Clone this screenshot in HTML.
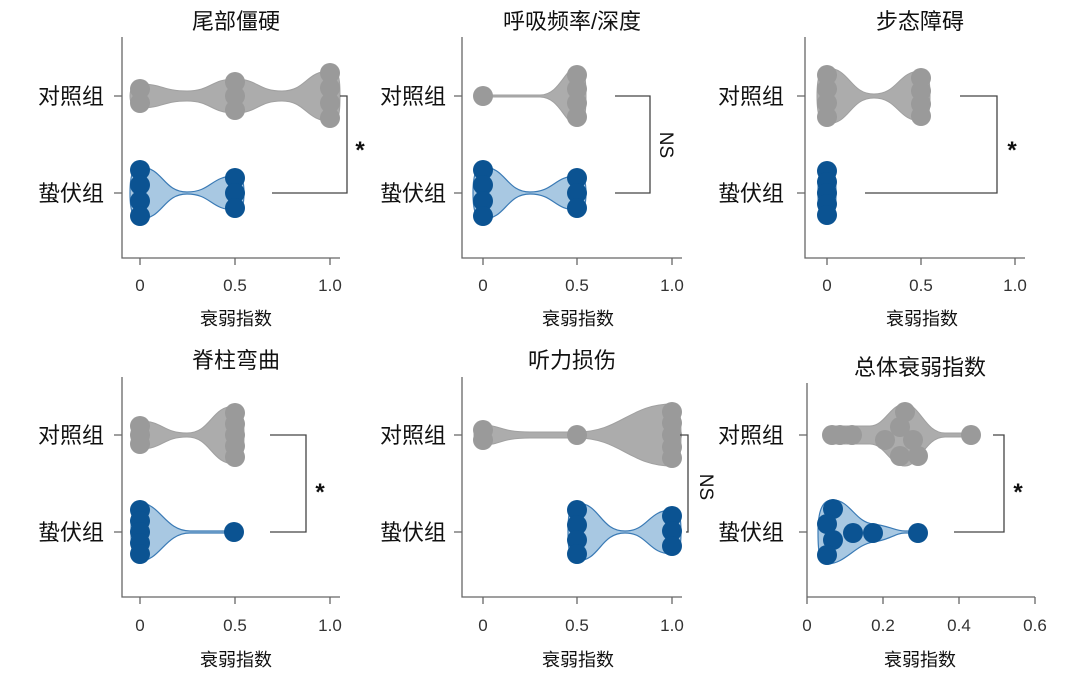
<!DOCTYPE html>
<html><head><meta charset="utf-8"><style>
html,body{margin:0;padding:0;background:#fff;}
svg{display:block;}
text{font-family:"Liberation Sans","Noto Sans CJK SC",sans-serif;fill:#111;}
.t{font-size:22px;text-anchor:middle;}
.r{font-size:22px;text-anchor:end;}
.k{font-size:17px;text-anchor:middle;fill:#333;}
.x{font-size:18px;text-anchor:middle;}
.s{font-size:24px;text-anchor:middle;font-weight:bold;}
.ax{stroke:#666;stroke-width:1.3;fill:none;}
.br{stroke:#444;stroke-width:1.3;fill:none;}
.gv{fill:#acacac;stroke:#a0a0a0;stroke-width:1;}
.bv{fill:#a8c8e2;stroke:#3a7ab5;stroke-width:1.2;}
.g{fill:#9a9a9a;}
.b{fill:#0b5392;}
</style></head><body>
<svg width="1080" height="694" viewBox="0 0 1080 694" xmlns="http://www.w3.org/2000/svg">

<!-- ===== Panel 1 ===== -->
<text class="t" x="236" y="29">尾部僵硬</text>
<path class="ax" d="M122,37 V258 H340 M114,96 H122 M114,193 H122 M140,258 V265 M235,258 V265 M330,258 V265"/>
<text class="r" x="104" y="104">对照组</text>
<text class="r" x="104" y="201">蛰伏组</text>
<text class="k" x="140" y="291">0</text><text class="k" x="235" y="291">0.5</text><text class="k" x="330" y="291">1.0</text>
<text class="x" x="236" y="325">衰弱指数</text>
<path class="gv" d="M130,96 C130,86 135,84 140,84 C163,84 163,91 187,91 C211,91 211,79 235,79 C258,79 258,91 282,91 C306,91 306,71 330,71 C340,71 340,80 340,96 C340,112 340,121 330,121 C306,121 306,101 282,101 C258,101 258,113 235,113 C211,113 211,101 187,101 C163,101 163,108 140,108 C135,108 130,106 130,96 Z"/>
<g class="g"><circle cx="140" cy="89" r="10"/><circle cx="140" cy="103" r="10"/>
<circle cx="235" cy="82" r="10"/><circle cx="235" cy="96" r="10"/><circle cx="235" cy="110" r="10"/>
<circle cx="330" cy="73" r="10"/><circle cx="330" cy="88" r="10"/><circle cx="330" cy="103" r="10"/><circle cx="330" cy="118" r="10"/></g>
<path class="bv" d="M130,193 C130,170 135,167 140,167 C163,167 163,192 187,192 C211,192 211,176 235,176 C242,176 244,180 244,193 C244,206 242,210 235,210 C211,210 211,194 187,194 C163,194 163,219 140,219 C135,219 130,216 130,193Z"/>
<g class="b"><circle cx="140" cy="170" r="10"/><circle cx="140" cy="185" r="10"/><circle cx="140" cy="201" r="10"/><circle cx="140" cy="216" r="10"/>
<circle cx="235" cy="178" r="10"/><circle cx="235" cy="193" r="10"/><circle cx="235" cy="208" r="10"/></g>
<path class="br" d="M340,96 H347 V193 H272"/>
<text class="s" x="360" y="158">*</text>

<!-- ===== Panel 2 ===== -->
<text class="t" x="572" y="29">呼吸频率/深度</text>
<path class="ax" d="M462,37 V258 H682 M454,96 H462 M454,193 H462 M483,258 V265 M577,258 V265 M672,258 V265"/>
<text class="r" x="446" y="104">对照组</text>
<text class="r" x="446" y="201">蛰伏组</text>
<text class="k" x="483" y="291">0</text><text class="k" x="577" y="291">0.5</text><text class="k" x="672" y="291">1.0</text>
<text class="x" x="578" y="325">衰弱指数</text>
<path class="gv" d="M483,95 L540,95 C560,95 565,67 577,67 C584,67 586,75 586,96 C586,117 584,125 577,125 C565,125 560,97 540,97 L483,97Z"/>
<g class="g"><circle cx="483" cy="96" r="10"/>
<circle cx="577" cy="75" r="10"/><circle cx="577" cy="89" r="10"/><circle cx="577" cy="103" r="10"/><circle cx="577" cy="117" r="10"/></g>
<path class="bv" d="M473,193 C473,170 478,167 483,167 C506,167 506,192 530,192 C554,192 554,176 577,176 C584,176 586,180 586,193 C586,206 584,210 577,210 C554,210 554,194 530,194 C506,194 506,219 483,219 C478,219 473,216 473,193Z"/>
<g class="b"><circle cx="483" cy="170" r="10"/><circle cx="483" cy="185" r="10"/><circle cx="483" cy="201" r="10"/><circle cx="483" cy="216" r="10"/>
<circle cx="577" cy="178" r="10"/><circle cx="577" cy="193" r="10"/><circle cx="577" cy="208" r="10"/></g>
<path class="br" d="M615,96 H650 V193 H615"/>
<text x="660" y="145" transform="rotate(90 660 145)" style="font-size:19px;text-anchor:middle">NS</text>

<!-- ===== Panel 3 ===== -->
<text class="t" x="920" y="29">步态障碍</text>
<path class="ax" d="M805,37 V258 H1025 M797,96 H805 M797,193 H805 M827,258 V265 M921,258 V265 M1015,258 V265"/>
<text class="r" x="784" y="104">对照组</text>
<text class="r" x="784" y="201">蛰伏组</text>
<text class="k" x="827" y="291">0</text><text class="k" x="921" y="291">0.5</text><text class="k" x="1015" y="291">1.0</text>
<text class="x" x="922" y="325">衰弱指数</text>
<path class="gv" d="M817,96 C817,72 822,68 827,68 C850,68 850,94 874,94 C898,94 898,71 921,71 C928,71 930,78 930,96 C930,114 928,121 921,121 C898,121 898,98 874,98 C850,98 850,124 827,124 C822,124 817,120 817,96Z"/>
<g class="g"><circle cx="827" cy="75" r="10"/><circle cx="827" cy="89" r="10"/><circle cx="827" cy="103" r="10"/><circle cx="827" cy="117" r="10"/>
<circle cx="921" cy="78" r="10"/><circle cx="921" cy="91" r="10"/><circle cx="921" cy="104" r="10"/><circle cx="921" cy="116" r="10"/></g>
<path class="bv" d="M818,193 C818,168 822,163 827,163 C832,163 836,168 836,193 C836,218 832,223 827,223 C822,223 818,218 818,193Z"/>
<g class="b"><circle cx="827" cy="171" r="10"/><circle cx="827" cy="182" r="10"/><circle cx="827" cy="193" r="10"/><circle cx="827" cy="204" r="10"/><circle cx="827" cy="215" r="10"/></g>
<path class="br" d="M960,96 H997 V193 H865"/>
<text class="s" x="1012" y="158">*</text>

<!-- ===== Panel 4 ===== -->
<text class="t" x="236" y="368">脊柱弯曲</text>
<path class="ax" d="M122,377 V597 H340 M114,435 H122 M114,532 H122 M140,597 V604 M235,597 V604 M330,597 V604"/>
<text class="r" x="104" y="443">对照组</text>
<text class="r" x="104" y="540">蛰伏组</text>
<text class="k" x="140" y="631">0</text><text class="k" x="235" y="631">0.5</text><text class="k" x="330" y="631">1.0</text>
<text class="x" x="236" y="666">衰弱指数</text>
<path class="gv" d="M131,435 C131,424 135,421 140,421 C163,421 163,433 187,433 C211,433 211,406 235,406 C242,406 244,414 244,435 C244,456 242,464 235,464 C211,464 211,437 187,437 C163,437 163,449 140,449 C135,449 131,446 131,435Z"/>
<g class="g"><circle cx="140" cy="426" r="10"/><circle cx="140" cy="435" r="10"/><circle cx="140" cy="444" r="10"/>
<circle cx="235" cy="413" r="10"/><circle cx="235" cy="424" r="10"/><circle cx="235" cy="435" r="10"/><circle cx="235" cy="446" r="10"/><circle cx="235" cy="457" r="10"/></g>
<path class="bv" d="M131,532 C131,506 135,503 140,503 C160,503 165,531 190,531 L226,531 C230,531 230,533 226,533 L190,533 C165,533 160,561 140,561 C135,561 131,558 131,532Z"/>
<g class="b"><circle cx="140" cy="510" r="10"/><circle cx="140" cy="521" r="10"/><circle cx="140" cy="532" r="10"/><circle cx="140" cy="543" r="10"/><circle cx="140" cy="554" r="10"/>
<circle cx="234" cy="532" r="10"/></g>
<path class="br" d="M270,435 H306 V532 H270"/>
<text class="s" x="320" y="500">*</text>

<!-- ===== Panel 5 ===== -->
<text class="t" x="572" y="368">听力损伤</text>
<path class="ax" d="M462,377 V597 H682 M454,435 H462 M454,532 H462 M483,597 V604 M577,597 V604 M672,597 V604"/>
<text class="r" x="446" y="443">对照组</text>
<text class="r" x="446" y="540">蛰伏组</text>
<text class="k" x="483" y="631">0</text><text class="k" x="577" y="631">0.5</text><text class="k" x="672" y="631">1.0</text>
<text class="x" x="578" y="666">衰弱指数</text>
<path class="gv" d="M474,435 C474,427 478,425 483,425 C500,425 500,432 530,432 L577,432 C620,432 630,404 672,404 C679,404 681,410 681,435 C681,460 679,466 672,466 C630,466 620,438 577,438 L530,438 C500,438 500,445 483,445 C478,445 474,443 474,435Z"/>
<g class="g"><circle cx="483" cy="430" r="10"/><circle cx="483" cy="440" r="10"/><circle cx="577" cy="435" r="10"/>
<circle cx="672" cy="412" r="10"/><circle cx="672" cy="423" r="10"/><circle cx="672" cy="435" r="10"/><circle cx="672" cy="447" r="10"/><circle cx="672" cy="458" r="10"/></g>
<path class="bv" d="M568,532 C568,507 572,503 577,503 C600,503 600,531 625,531 C648,531 648,510 672,510 C679,510 681,515 681,532 C681,549 679,554 672,554 C648,554 648,533 625,533 C600,533 600,561 577,561 C572,561 568,557 568,532Z"/>
<g class="b"><circle cx="577" cy="510" r="10"/><circle cx="577" cy="525" r="10"/><circle cx="577" cy="540" r="10"/><circle cx="577" cy="554" r="10"/>
<circle cx="672" cy="516" r="10"/><circle cx="672" cy="531" r="10"/><circle cx="672" cy="546" r="10"/></g>
<path class="br" d="M680,435 H688 V532 H686"/>
<text x="700" y="487" transform="rotate(90 700 487)" style="font-size:19px;text-anchor:middle">NS</text>

<!-- ===== Panel 6 ===== -->
<text class="t" x="920" y="375">总体衰弱指数</text>
<path class="ax" d="M807,383 V597 H1035 M799,435 H807 M799,532 H807 M807,597 V604 M883,597 V604 M959,597 V604 M1035,597 V604"/>
<text class="r" x="784" y="443">对照组</text>
<text class="r" x="784" y="540">蛰伏组</text>
<text class="k" x="807" y="631">0</text><text class="k" x="883" y="631">0.2</text><text class="k" x="959" y="631">0.4</text><text class="k" x="1035" y="631">0.6</text>
<text class="x" x="920" y="666">衰弱指数</text>
<path class="gv" d="M828,435 C828,427 832,426 837,426 L870,426 C885,426 890,404 905,404 C920,404 925,433 945,433 L965,433 L965,437 L945,437 C925,437 920,466 905,466 C890,466 885,444 870,444 L837,444 C832,444 828,443 828,435Z"/>
<g class="g"><circle cx="832" cy="435" r="10"/><circle cx="840" cy="435" r="10"/><circle cx="852" cy="435" r="10"/>
<circle cx="905" cy="412" r="10"/><circle cx="900" cy="427" r="10"/><circle cx="885" cy="440" r="10"/><circle cx="913" cy="440" r="10"/><circle cx="900" cy="456" r="10"/><circle cx="918" cy="456" r="10"/><circle cx="971" cy="435" r="10"/></g>
<path class="bv" d="M818,532 C818,505 825,500 833,500 C850,500 855,522 873,524 C890,526 895,531 905,531 L915,531 C920,531 920,533 915,533 L905,533 C895,533 890,540 873,542 C855,545 845,564 827,564 C820,564 818,555 818,532Z"/>
<g class="b"><circle cx="833" cy="509" r="10"/><circle cx="827" cy="524" r="10"/><circle cx="833" cy="540" r="10"/><circle cx="827" cy="555" r="10"/>
<circle cx="853" cy="533" r="10"/><circle cx="873" cy="533" r="10"/><circle cx="918" cy="533" r="10"/></g>
<path class="br" d="M993,435 H1004 V532 H954"/>
<text class="s" x="1018" y="500">*</text>
</svg>
</body></html>
